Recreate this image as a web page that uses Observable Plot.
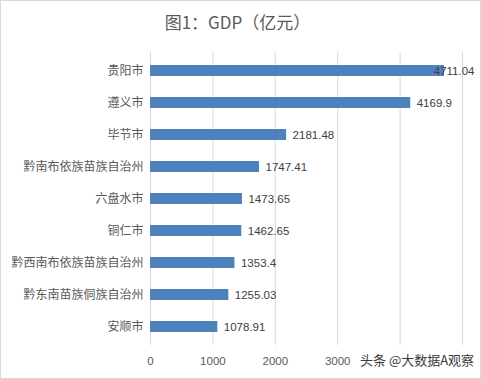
<!DOCTYPE html>
<html><head><meta charset="utf-8">
<script src="https://cdn.jsdelivr.net/npm/d3@7"></script>
<script src="https://cdn.jsdelivr.net/npm/@observablehq/plot@0.6"></script>
<style>
html,body{margin:0;padding:0;background:#fff;}
#wrap{position:relative;width:479px;height:377px;border:1px solid #d9d9d9;overflow:hidden;background:#fff;}
#title{height:44px;line-height:42px;text-align:center;font-family:"Noto Sans CJK SC",sans-serif;font-size:17px;color:#595959;padding-right:6px;}
#wm{position:absolute;left:359px;top:349px;font-family:"Noto Sans CJK SC",sans-serif;font-size:13px;color:#3a3a3a;text-shadow:0 0 2px #fff,0 0 2px #fff;}
svg{display:block;}
</style></head>
<body><div id="wrap"><div id="title">图1：GDP（亿元）</div><div id="chart"></div><div id="wm">头条 @大数据A观察</div></div>
<script>
const categories = ["贵阳市","遵义市","毕节市","黔南布依族苗族自治州","六盘水市","铜仁市","黔西南布依族苗族自治州","黔东南苗族侗族自治州","安顺市"];
const values = [4711.04, 4169.9, 2181.48, 1747.41, 1473.65, 1462.65, 1353.4, 1255.03, 1078.91];
const gridTicks = [0, 1000, 2000, 3000, 4000, 5000];
const axisTicks = [0, 1000, 2000, 3000];
const data = categories.map((c, i) => ({name: c, value: values[i]}));

const chart = Plot.plot({
  width: 479,
  height: 333,
  marginLeft: 149,
  marginRight: 18,
  marginTop: 7,
  marginBottom: 33,
  style: {fontFamily: "'Noto Sans CJK SC', sans-serif", background: "#fff"},
  x: {domain: [0, 5000], ticks: gridTicks},
  y: {domain: categories, paddingInner: 0.66, paddingOuter: 0.33, label: null},
  marks: [
    Plot.gridX(gridTicks, {stroke: "#d9d9d9", strokeOpacity: 1}),
    Plot.barX(data, {x: "value", y: "name", fill: "#4f81bd"}),
    Plot.text(data.filter(d => d.value < 4500), {x: "value", y: "name", text: d => String(d.value), textAnchor: "start", dx: 6, fill: "#404040", fontSize: 11.5, fontFamily: "'Liberation Sans', sans-serif"}),
    Plot.text(data.filter(d => d.value >= 4500), {x: "value", y: "name", text: d => String(d.value), textAnchor: "end", dx: 30, fill: "#404040", fontSize: 11.5, fontFamily: "'Liberation Sans', sans-serif"}),
    Plot.axisY({tickSize: 0, tickPadding: 7, fontSize: 12, fill: "#595959", label: null}),
    Plot.axisX(axisTicks, {tickSize: 0, tickPadding: 11, fontSize: 11.5, fill: "#595959", label: null, tickFormat: d => String(d), fontFamily: "'Liberation Sans', sans-serif"})
  ]
});
document.getElementById("chart").appendChild(chart);
</script>
</body></html>
